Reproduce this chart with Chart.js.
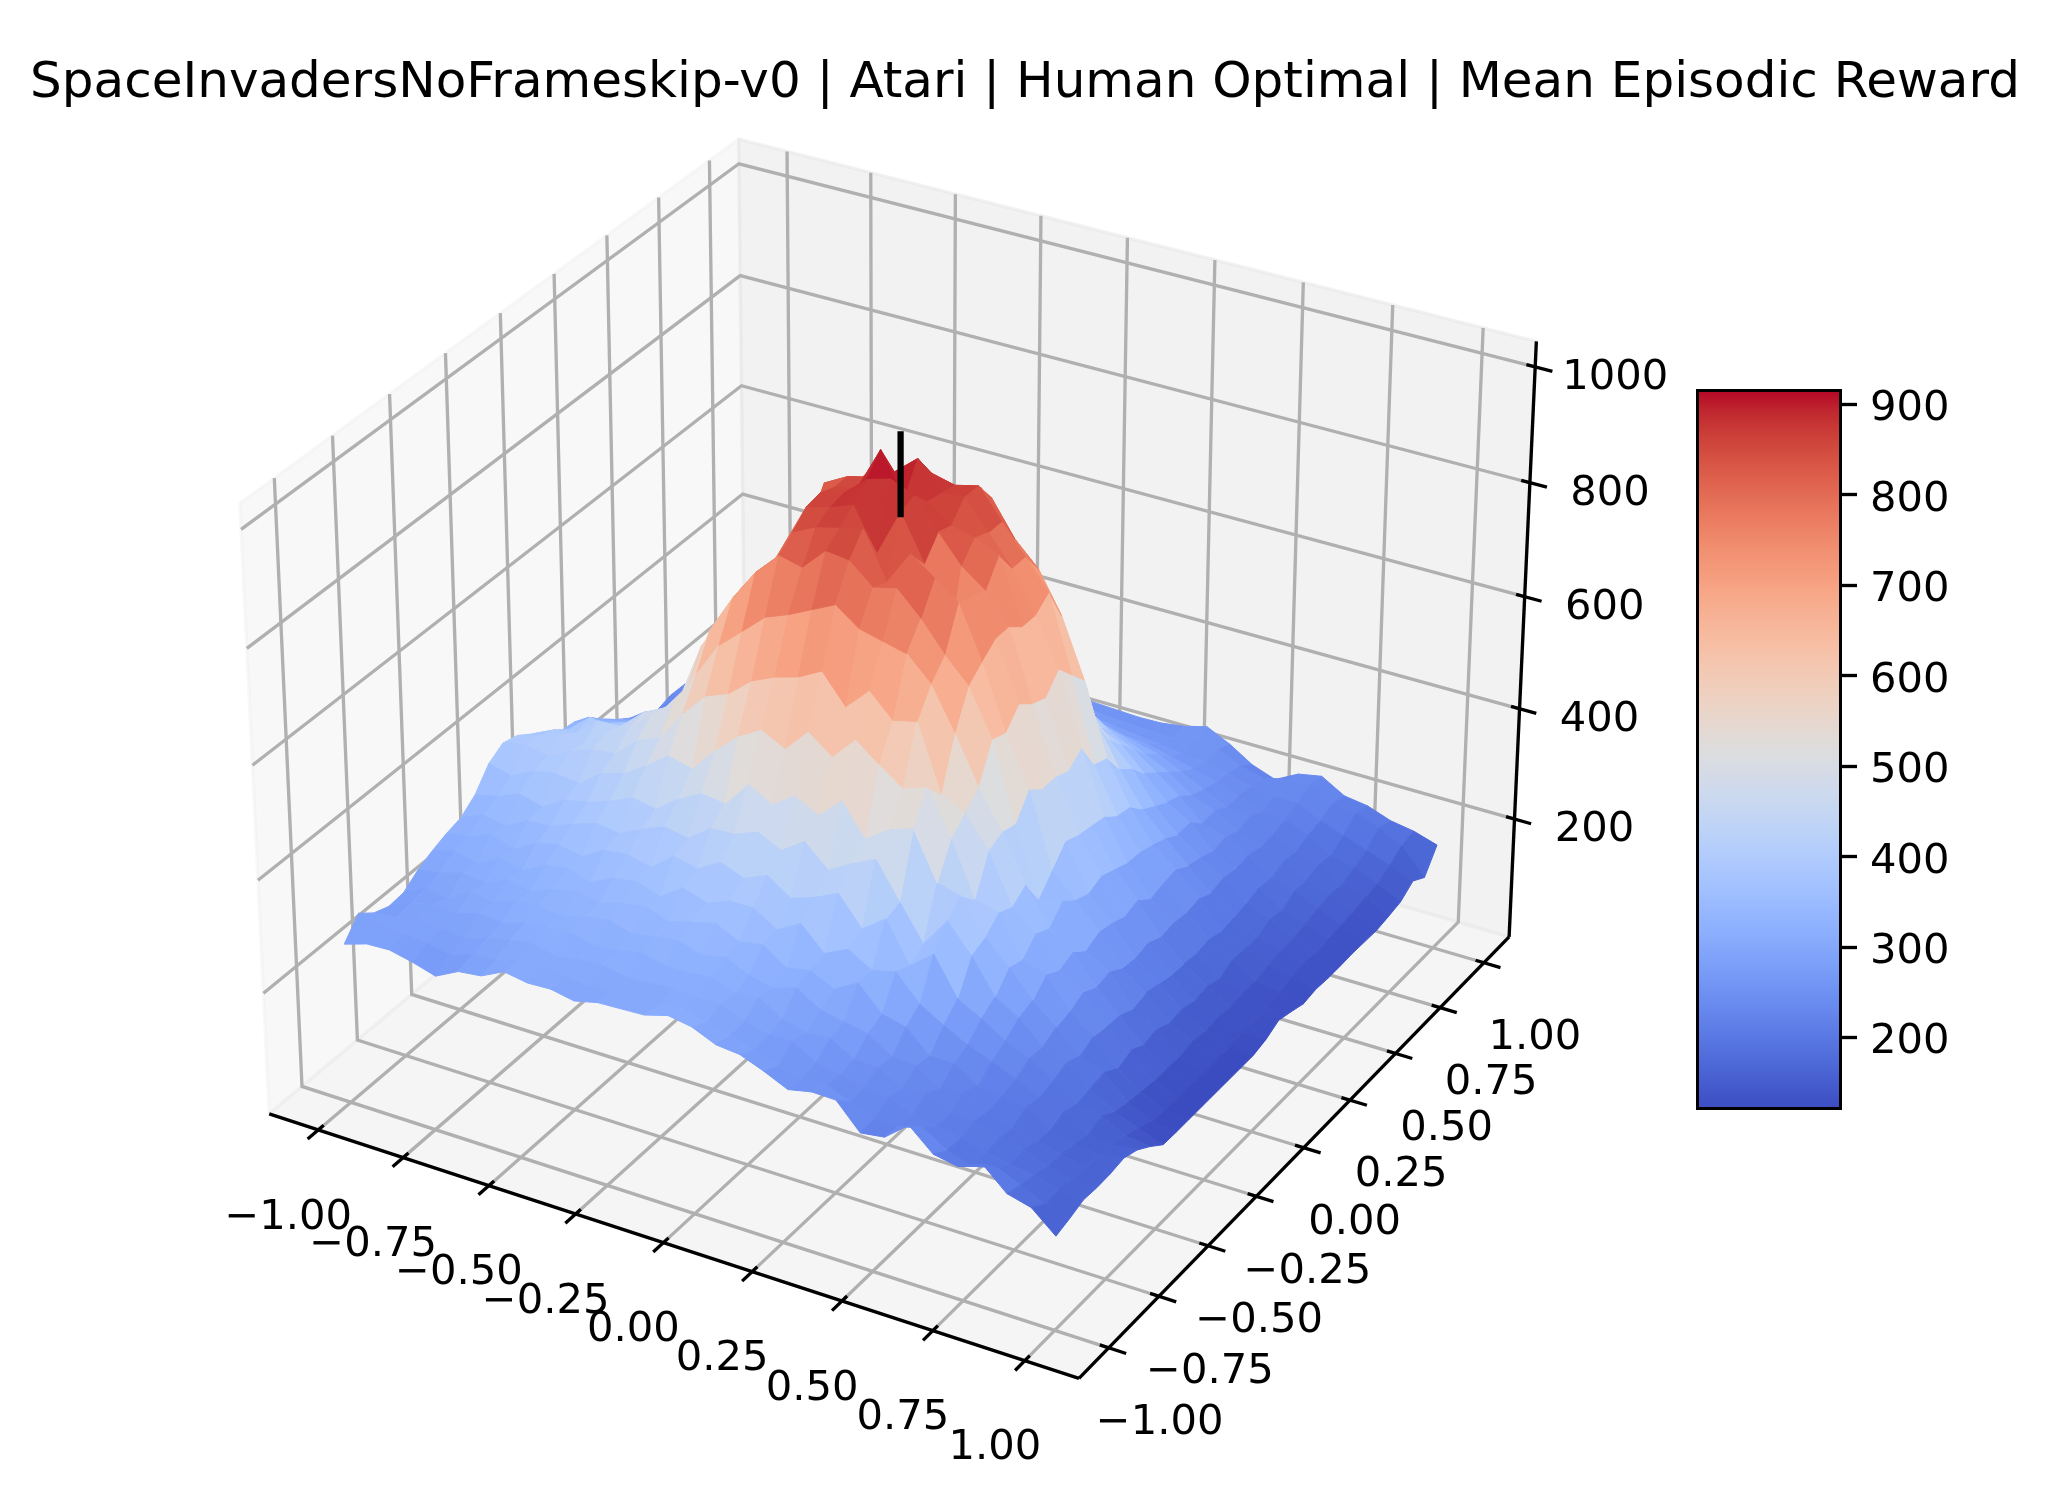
<!DOCTYPE html>
<html>
<head>
<meta charset="utf-8">
<title>Mean Episodic Reward</title>
<script src="https://cdn.jsdelivr.net/npm/chart.js@4"></script>
<style>
  html, body { margin: 0; padding: 0; background: #fff; }
  #surface { position: absolute; left: 0; top: 0; }
  #colorbar { position: absolute; left: 1660px; top: 360px; }
</style>
</head>
<body>
<canvas id="surface" width="2050" height="1502"></canvas>
<canvas id="colorbar" width="332" height="780"></canvas>
<script>
// Data
var chartTitle = "SpaceInvadersNoFrameskip-v0 | Atari | Human Optimal | Mean Episodic Reward";
var planeTicks = [-1, -0.75, -0.5, -0.25, 0, 0.25, 0.5, 0.75, 1];
var planeTickLabels = ["\u22121.00", "\u22120.75", "\u22120.50", "\u22120.25", "0.00", "0.25", "0.50", "0.75", "1.00"];
var zTicks = [200, 400, 600, 800, 1000];
var colorbarTicks = [200, 300, 400, 500, 600, 700, 800, 900];
var optimalLine = [880, 1026];

// one row per y step (-1 to 1), one column per x step (-1 to 1)
var surfaceZ = [
  [267,280,282,273,261,282,287,307,300,302,294,304,306,308,320,313,295,291,275,256,265,264,220,226,260,223,215,233,195,184,148],
  [300,290,288,284,276,290,292,306,306,302,298,302,300,302,310,298,288,276,260,252,254,238,222,222,232,206,192,204,186,166,155],
  [279,284,292,288,284,296,306,312,302,310,312,304,306,310,306,308,292,280,282,258,250,240,236,220,212,206,194,186,180,168,164],
  [269,286,298,294,306,302,314,320,322,312,316,326,316,316,320,306,310,286,274,278,254,252,228,234,212,212,194,188,172,164,162],
  [272,292,286,310,304,318,324,316,330,336,324,332,338,324,334,314,304,318,292,284,276,248,246,218,226,206,190,178,170,160,163],
  [291,298,310,304,324,314,330,340,332,344,350,336,348,358,338,346,318,326,306,330,288,278,240,240,214,210,204,176,164,160,167],
  [304,316,306,328,318,340,346,334,354,360,346,374,360,376,376,350,374,334,354,330,340,296,272,250,234,216,198,186,158,154,158],
  [314,320,336,322,346,354,346,370,374,364,396,386,410,394,412,384,398,418,368,398,328,362,296,274,248,230,204,176,168,146,141],
  [321,338,330,352,354,370,384,378,398,414,406,436,438,454,434,462,424,448,468,406,345,398,350,290,266,228,214,182,152,136,121],
  [341,350,366,356,380,388,402,420,412,442,464,458,505,482,510,488,526,470,498,512,430,420,360,320,274,240,202,186,146,126,120],
  [376,366,386,394,388,418,430,456,486,476,520,556,580,558,600,568,610,578,548,562,486,392,382,312,298,246,214,170,142,123,120],
  [392,402,392,414,428,432,468,484,540,582,598,632,650,662,684,634,674,634,644,530,510,456,370,336,284,258,210,180,138,120,120],
  [385,396,410,405,436,456,492,525,588,650,686,722,738,758,778,748,738,728,688,615,534,468,388,323,294,244,208,166,138,120,120],
  [367,386,392,426,428,464,485,535,645,712,768,808,798,838,833,798,808,768,718,676,596,460,340,350,274,250,196,172,136,120,120],
  [343,366,400,390,410,445,480,585,650,720,755,828,848,858,868,788,848,818,788,698,586,500,370,330,286,234,202,160,142,120,120],
  [331,350,368,382,402,422,490,570,640,690,775,853,863,878,806,888,812,660,778,718,616,480,400,320,280,230,196,164,136,122,120],
  [327,335,345,365,385,418,500,570,640,690,770,858,868,903,915,898,846,798,768,718,596,480,390,330,270,236,190,156,140,124,126],
  [315,320,328,352,388,420,470,540,640,700,780,848,858,935,860,868,838,828,810,698,586,470,385,320,278,224,188,160,136,126,138],
  [291,302,310,335,362,400,450,530,640,690,826,848,858,878,912,863,868,818,768,698,616,490,380,310,258,228,184,152,140,124,131],
  [270,280,295,330,350,390,430,500,590,710,798,821,838,858,868,858,868,818,768,718,586,440,360,308,264,224,188,164,138,130,123],
  [252,265,280,300,330,370,400,460,550,660,768,798,818,825,830,825,828,768,728,658,556,430,355,300,268,228,180,162,145,136,127],
  [242,252,270,290,320,360,420,530,640,740,783,788,783,793,790,815,758,718,628,536,460,390,330,290,252,216,184,160,150,140,125],
  [226,245,270,290,320,360,420,490,560,630,688,718,738,743,723,758,708,623,536,460,410,370,315,275,245,222,188,172,150,136,125],
  [233,248,265,290,310,340,380,430,470,522,558,598,628,648,718,698,598,516,450,400,380,340,300,275,235,216,195,166,155,140,126],
  [232,245,260,280,300,320,350,380,410,440,470,500,522,552,658,638,536,460,400,370,350,320,290,252,240,220,190,180,160,142,125],
  [232,240,250,265,285,300,320,340,360,380,390,410,420,410,420,400,390,370,350,340,320,300,270,255,230,212,200,178,165,145,124],
  [234,240,246,258,270,285,300,310,330,340,350,360,365,370,360,355,340,335,320,310,300,280,260,240,235,215,195,185,160,150,128],
  [237,238,245,252,260,270,280,290,300,310,320,325,330,325,320,315,310,300,290,285,275,265,252,240,222,220,205,180,170,152,133],
  [240,240,242,248,252,260,270,275,280,290,290,300,295,300,290,290,280,275,270,265,260,255,248,235,230,230,210,195,180,165,149],
  [238,236,240,244,248,252,258,262,268,270,275,272,278,275,270,268,262,260,258,256,262,258,240,230,240,242,220,215,200,180,134],
  [237,238,240,242,246,248,252,255,258,260,262,262,260,258,256,254,252,250,251,257,268,248,222,207,229,237,213,207,192,185,172]
];

// coolwarm colormap stops
var coolwarm = [
  [59,76,192],[68,90,204],[77,104,215],[87,117,225],[98,130,234],[108,142,241],[119,154,247],[130,165,251],
  [141,176,254],[152,185,255],[163,194,255],[174,201,253],[184,208,249],[194,213,244],[204,217,238],[213,219,230],
  [221,221,221],[229,216,209],[236,211,197],[241,204,185],[245,196,173],[247,187,160],[247,177,148],[247,166,135],
  [244,154,123],[241,141,111],[236,127,99],[229,112,88],[222,96,77],[213,80,66],[203,62,56],[192,40,47],[180,4,38]
];
var colorMin = 120;
var colorMax = 917;

// 3D view (elev 30, azim -60, dist 10), pane limits
var planeEdge = 1.1458;
var zMid = 513;
var zHalf = 530.5;
var boxX = 0.595;
var boxZ = 0.4464;
var u = [0.866025, 0.5, 0];
var v = [-0.25, 0.433013, 0.866025];
var n = [0.433013, -0.75, 0.5];

// pixel mapping of the projected plane
var pxOriginX = 900.6;
var pxOriginY = 729;
var pxScale = 7795;
var titleBox = 113.6;
var lineW = 3.33;

function project(x, y, z) {
  var dx = x / planeEdge * boxX;
  var dy = y / planeEdge * boxX;
  var dz = (z - zMid) / zHalf * boxZ;
  var w = 10 - (n[0] * dx + n[1] * dy + n[2] * dz);
  return {
    x: (u[0] * dx + u[1] * dy + u[2] * dz) / w,
    y: (v[0] * dx + v[1] * dy + v[2] * dz) / w,
    depth: w
  };
}

function colorFor(value) {
  var t = Math.min(1, Math.max(0, (value - colorMin) / (colorMax - colorMin))) * (coolwarm.length - 1);
  var a = Math.floor(t);
  var b = Math.min(a + 1, coolwarm.length - 1);
  var f = t - a;
  return "rgb(" + [0, 1, 2].map(function (k) {
    return Math.round(coolwarm[a][k] + (coolwarm[b][k] - coolwarm[a][k]) * f);
  }).join(",") + ")";
}

function polyLine(points, color, width) {
  return {
    data: points.map(function (p) { return project(p[0], p[1], p[2]); }),
    showLine: true,
    borderColor: color,
    borderWidth: width,
    pointRadius: 0,
    fill: false,
    borderCapStyle: "butt"
  };
}

function shape(points, fillColor, edgeColor, width) {
  var set = polyLine(points.concat([points[0]]), edgeColor, width);
  set.fill = "shape";
  set.backgroundColor = fillColor;
  set.borderJoinStyle = "round";
  return set;
}

var zLow = zMid - zHalf;
var zTop = zMid + zHalf;
var E = planeEdge;

// panes
var layers = [
  shape([[-E,-E,zLow],[-E,E,zLow],[-E,E,zTop],[-E,-E,zTop]], "rgba(242,242,242,0.5)", "rgba(242,242,242,0.5)", lineW),
  shape([[-E,E,zLow],[E,E,zLow],[E,E,zTop],[-E,E,zTop]], "rgba(230,230,230,0.5)", "rgba(230,230,230,0.5)", lineW),
  shape([[-E,-E,zLow],[E,-E,zLow],[E,E,zLow],[-E,E,zLow]], "rgba(236,236,236,0.5)", "rgba(236,236,236,0.5)", lineW)
];

// grid
planeTicks.forEach(function (t) {
  layers.push(polyLine([[t,-E,zLow],[t,E,zLow],[t,E,zTop]], "#b0b0b0", lineW));
  layers.push(polyLine([[E,t,zLow],[-E,t,zLow],[-E,t,zTop]], "#b0b0b0", lineW));
});
zTicks.forEach(function (t) {
  layers.push(polyLine([[-E,-E,t],[-E,E,t],[E,E,t]], "#b0b0b0", lineW));
});

// axis lines and ticks
layers.push(polyLine([[-E,-E,zLow],[E,-E,zLow]], "#000", lineW));
layers.push(polyLine([[E,-E,zLow],[E,E,zLow]], "#000", lineW));
layers.push(polyLine([[E,E,zLow],[E,E,zTop]], "#000", lineW));
var tickIn = 0.024;
var tickOut = 0.047;
planeTicks.forEach(function (t) {
  layers.push(polyLine([[t,-E+tickIn,zLow],[t,-E-tickOut,zLow]], "#000", lineW));
  layers.push(polyLine([[E-tickIn,t,zLow],[E+tickOut,t,zLow]], "#000", lineW));
});
zTicks.forEach(function (t) {
  layers.push(polyLine([[E-tickIn,E,t],[E+tickOut,E,t]], "#000", lineW));
});

// surface quads, far ones first
var count = surfaceZ.length;
var quads = [];
for (var j = 0; j < count - 1; j++) {
  for (var i = 0; i < count - 1; i++) {
    var x0 = -1 + 2 * i / (count - 1);
    var x1 = -1 + 2 * (i + 1) / (count - 1);
    var y0 = -1 + 2 * j / (count - 1);
    var y1 = -1 + 2 * (j + 1) / (count - 1);
    var corners = [
      [x0, y0, surfaceZ[j][i]],
      [x1, y0, surfaceZ[j][i + 1]],
      [x1, y1, surfaceZ[j + 1][i + 1]],
      [x0, y1, surfaceZ[j + 1][i]]
    ];
    var mean = 0;
    var depth = 0;
    corners.forEach(function (c) {
      mean += c[2] / 4;
      depth += project(c[0], c[1], c[2]).depth / 4;
    });
    quads.push({ corners: corners, mean: mean, depth: depth });
  }
}
quads.sort(function (a, b) { return b.depth - a.depth; });
quads.forEach(function (q) {
  var c = colorFor(q.mean);
  layers.push(shape(q.corners, c, c, 1));
});

// black marker
layers.push(polyLine([[0,0,optimalLine[0]],[0,0,optimalLine[1]]], "#000", 6.25));

// Chart.js paints the last dataset first
layers.reverse();

var axisLabels = {
  id: "axisLabels",
  afterDatasetsDraw: function (chart) {
    var ctx = chart.ctx;
    var sx = chart.scales.x;
    var sy = chart.scales.y;
    function put(text, p, ox, oy) {
      ctx.fillText(text, sx.getPixelForValue(p.x) + ox, sy.getPixelForValue(p.y) + oy);
    }
    ctx.save();
    ctx.font = "41.67px 'DejaVu Sans'";
    ctx.fillStyle = "#000";
    ctx.textAlign = "center";
    ctx.textBaseline = "middle";
    planeTicks.forEach(function (t, k) {
      put(planeTickLabels[k], project(t, -E, zLow), -30, 88);
      put(planeTickLabels[k], project(E, t, zLow), 51, 75.5);
    });
    zTicks.forEach(function (t) {
      put(String(t), project(E, E, t), 80, 11);
    });
    ctx.restore();
  }
};

Chart.defaults.font.family = "'DejaVu Sans'";
Chart.defaults.color = "#000";

var surfaceChart = new Chart(document.getElementById("surface"), {
  type: "scatter",
  data: { datasets: layers },
  options: {
    responsive: false,
    animation: false,
    devicePixelRatio: 1,
    layout: { padding: 0 },
    plugins: {
      legend: { display: false },
      tooltip: { enabled: false },
      title: {
        display: true,
        text: chartTitle,
        color: "#000",
        font: { size: 50, weight: "normal" },
        padding: { top: 53.6, bottom: 0 }
      }
    },
    scales: {
      x: { type: "linear", display: false, min: -pxOriginX / pxScale, max: (2050 - pxOriginX) / pxScale },
      y: { type: "linear", display: false, min: (pxOriginY - 1502) / pxScale, max: (pxOriginY - titleBox) / pxScale }
    }
  },
  plugins: [axisLabels]
});

var colorbarChart = new Chart(document.getElementById("colorbar"), {
  type: "bar",
  data: {
    labels: [""],
    datasets: [{
      data: [[colorMin, colorMax]],
      backgroundColor: function (c) {
        var area = c.chart.chartArea;
        if (!area) return "#ddd";
        var g = c.chart.ctx.createLinearGradient(0, area.bottom, 0, area.top);
        coolwarm.forEach(function (rgb, k) {
          g.addColorStop(k / (coolwarm.length - 1), "rgb(" + rgb.join(",") + ")");
        });
        return g;
      },
      borderColor: "#000",
      borderWidth: lineW,
      borderSkipped: false,
      barPercentage: 1,
      categoryPercentage: 1
    }]
  },
  options: {
    responsive: false,
    animation: false,
    devicePixelRatio: 1,
    layout: { padding: { left: 36, top: 29, bottom: 30 } },
    plugins: { legend: { display: false }, tooltip: { enabled: false } },
    scales: {
      x: { display: false },
      y: {
        position: "right",
        min: colorMin,
        max: colorMax,
        afterBuildTicks: function (axis) {
          axis.ticks = colorbarTicks.map(function (t) { return { value: t }; });
        },
        afterFit: function (axis) {
          axis.width = 150;
          axis.paddingTop = 0;
          axis.paddingBottom = 0;
        },
        border: { display: false },
        grid: { drawOnChartArea: false, color: "#000", tickLength: 15, tickWidth: lineW },
        ticks: { font: { size: 41.67 }, color: "#000", padding: 13, labelOffset: 5, autoSkip: false, maxRotation: 0 }
      }
    }
  }
});
</script>
</body>
</html>
